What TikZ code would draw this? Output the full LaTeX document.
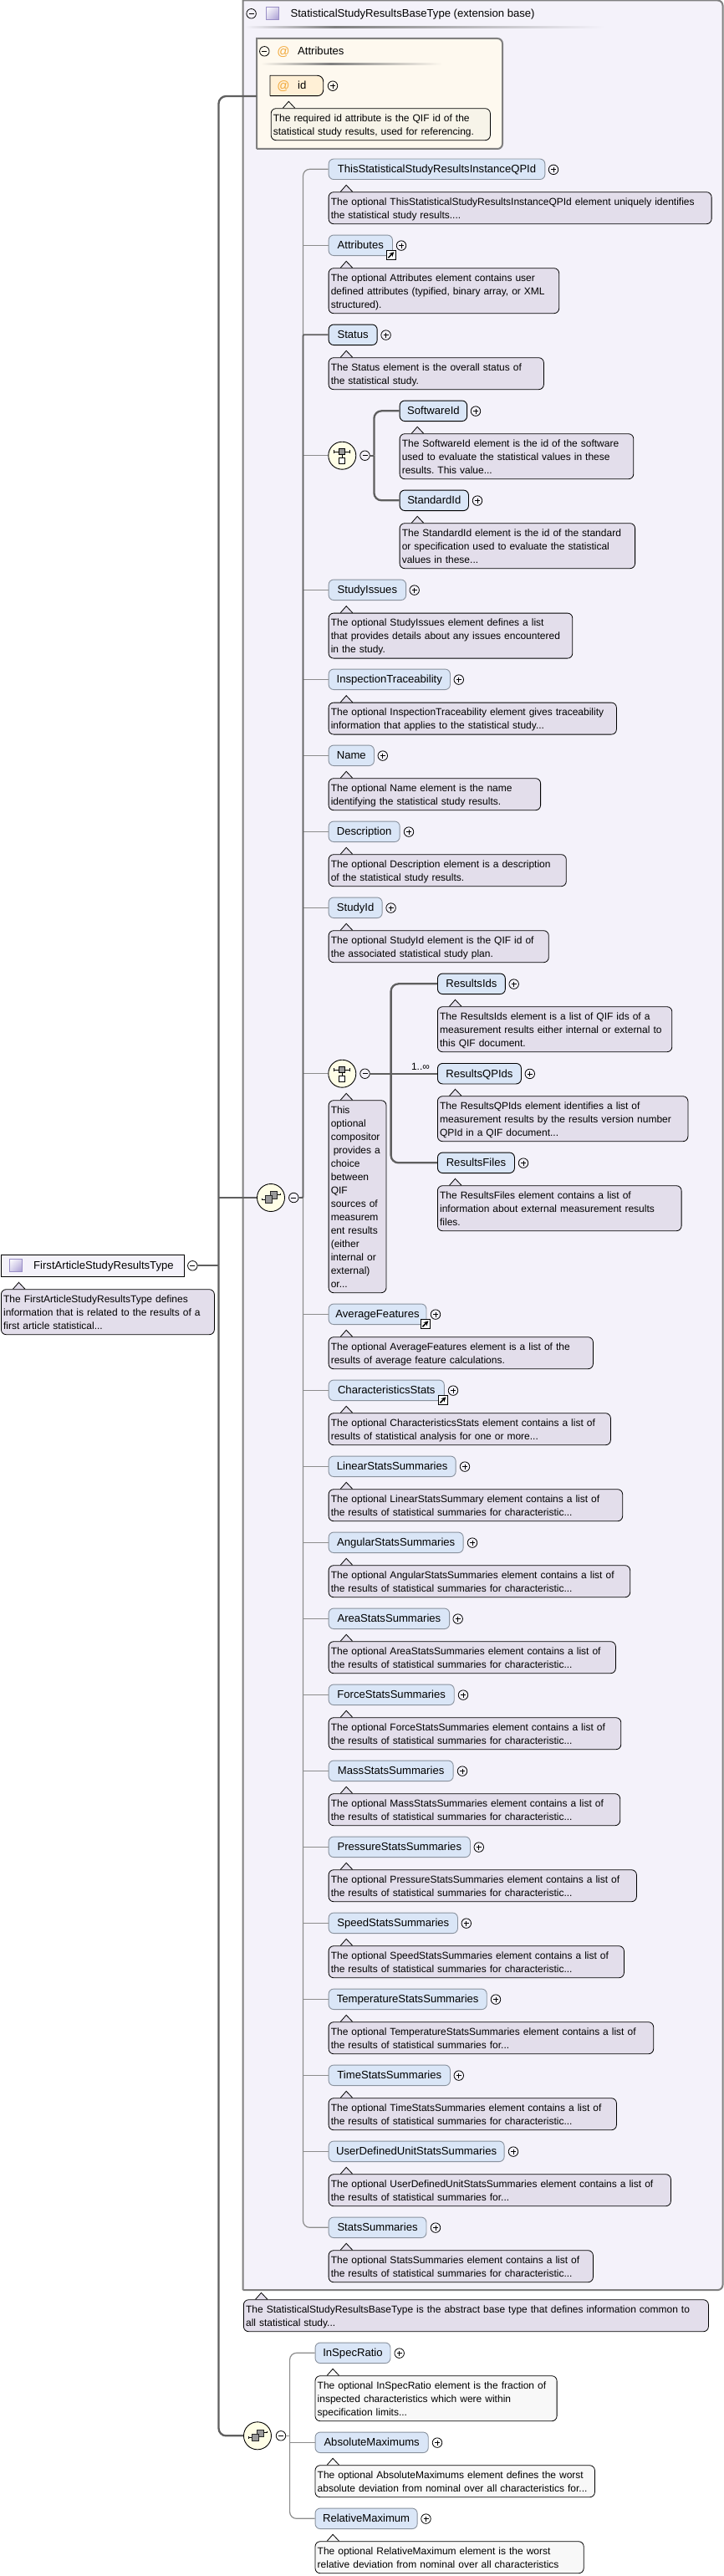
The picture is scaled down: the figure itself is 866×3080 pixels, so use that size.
\documentclass[tikz,border=0pt]{standalone}
\usepackage{fontspec}
\setmainfont{Liberation Sans}
\frenchspacing
\usetikzlibrary{arrows,shadings}
\definecolor{framefill}{HTML}{F4F2FA}
\definecolor{framedraw}{HTML}{808080}
\definecolor{attrfill}{HTML}{FEF9EF}
\definecolor{idfill}{HTML}{FFF0D6}
\definecolor{attrnotefill}{HTML}{F7F4E9}
\definecolor{notefill}{HTML}{E3DEEB}
\definecolor{palefill}{HTML}{F8F8F8}
\definecolor{elemfill}{HTML}{DAE6F7}
\definecolor{elemdraw}{HTML}{8A929E}
\definecolor{compfill}{HTML}{FFFEE6}
\definecolor{railgray}{HTML}{8C8C8C}
\definecolor{heavygray}{HTML}{5F5F5F}
\definecolor{atcolor}{HTML}{F2A93B}
\definecolor{typedraw}{HTML}{9A8FC6}
\definecolor{typedark}{HTML}{A396D0}
\definecolor{typemid}{HTML}{D8D3EC}
\tikzset{
  elem/.style={rectangle,rounded corners=6pt,draw=elemdraw,fill=elemfill,line width=.9pt,anchor=west,
    minimum width=#1pt,minimum height=24.5pt,inner xsep=0pt,inner ysep=0pt,text height=11pt,text depth=2pt,
    font=\fontsize{13.1}{16}\selectfont},
  req/.style={draw=black},
  notebox/.style 2 args={rectangle,rounded corners=6pt,draw=black,fill=#2,line width=.8pt,anchor=north west,
    align=left,text width={#1pt-5.4pt},inner xsep=2.7pt,inner ysep=3pt,
    font=\fontsize{12}{16}\selectfont,
    execute at begin node={\rule{0pt}{12.5pt}},execute at end node={\rule[-3.5pt]{0pt}{3.5pt}},
    append after command={\pgfextra{
      \fill[#2] ([xshift=14.5pt,yshift=-.6pt]\tikzlastnode.north west) -- ([xshift=21.5pt,yshift=8pt]\tikzlastnode.north west)
        -- ([xshift=29pt,yshift=-.6pt]\tikzlastnode.north west) -- cycle;
      \draw[black,line width=.8pt] ([xshift=14.5pt]\tikzlastnode.north west) -- ([xshift=21.5pt,yshift=8pt]\tikzlastnode.north west)
        -- ([xshift=29pt]\tikzlastnode.north west);
    }}},
  note/.style={notebox={#1}{notefill}},
  palenote/.style={notebox={#1}{palefill}},
  attrnote/.style={notebox={#1}{attrnotefill}},
  plus/.style={circle,draw=black,line width=.8pt,minimum size=11.5pt,inner sep=0pt,
    path picture={
      \draw[line width=.8pt] ([xshift=-3pt]path picture bounding box.center) -- ([xshift=3pt]path picture bounding box.center);
      \draw[line width=.8pt] ([yshift=-3pt]path picture bounding box.center) -- ([yshift=3pt]path picture bounding box.center);
    }},
  minus/.style={circle,draw=black,line width=.8pt,minimum size=11.5pt,inner sep=0pt,
    path picture={
      \draw[line width=.8pt] ([xshift=-3pt]path picture bounding box.center) -- ([xshift=3pt]path picture bounding box.center);
    }},
  linkbox/.style={rectangle,draw=black,fill=white,line width=.9pt,minimum width=11.5pt,minimum height=11pt,inner sep=0pt,
    path picture={
      \draw[-stealth,line width=1.5pt] ([xshift=-3.5pt,yshift=-3.5pt]path picture bounding box.center) -- ([xshift=3.5pt,yshift=3.5pt]path picture bounding box.center);
    }},
  typebox/.style={rectangle,draw=typedraw,line width=.8pt,minimum size=15.5pt,inner sep=0pt,
    upper left=white,upper right=typemid,lower left=typemid,lower right=typedark},
  choicecirc/.style={circle,draw=black,line width=.9pt,fill=compfill,minimum size=33pt,inner sep=0pt,
    path picture={
      \begin{scope}[shift={(path picture bounding box.center)},line width=.7pt]
        \draw (-9.5,-4.7) -- (9.5,-4.7);
        \draw (-9.5,-6.7) -- (-9.5,-2.7);
        \draw (9.5,-6.7) -- (9.5,-2.7);
        \draw (0,-4.7) -- (0,2);
        \draw[fill=gray!80] (-3.5,-8.2) rectangle (3.5,-1.2);
        \draw[fill=white] (-3.5,2.2) rectangle (3.5,9.2);
      \end{scope}
    }},
  seqcirc/.style={circle,draw=black,line width=.9pt,fill=compfill,minimum size=33pt,inner sep=0pt,
    path picture={
      \begin{scope}[shift={(path picture bounding box.center)},line width=.7pt]
        \draw (-11,2) -- (-6,2);
        \draw (-11,.8) -- (-11,3.2);
        \draw (7,-4) -- (11,-4);
        \draw (11,-5) -- (11,-3);
        \draw[fill=gray!80,draw=gray!30!black] (-.7,-7.3) rectangle (7.3,1);
        \draw[fill=gray!80,draw=gray!30!black] (-6.3,-2.3) rectangle (1,6);
      \end{scope}
    }},
  rail/.style={draw=railgray,line width=1.2pt,rounded corners=8pt},
  heavy/.style={draw=heavygray,line width=2.3pt,rounded corners=9pt},
  atsign/.style={text=atcolor,font=\fontsize{15}{16}\selectfont,inner sep=0pt},
  title/.style={font=\fontsize{13.1}{16}\selectfont,anchor=west,inner sep=0pt,text height=11pt,text depth=2pt}
}
\begin{document}
\begin{tikzpicture}[x=1pt,y=-1pt]
  \useasboundingbox[fill=white] (0,0) rectangle (866,3080);
  % base type frame
  \draw[draw=framedraw,fill=framefill,line width=2pt] (290.5,2738) [sharp corners] -- (290.5,.5) -- (858,.5)
    [rounded corners=6pt] -- (864.5,.5) -- (864.5,2738) -- (290.5,2738);
  \node[minus] (basem) at (300.6,16.3) {};
  \node[typebox] (baset) at (326,16) {};
  \node[title] (baselabel) at (347.4,16) {StatisticalStudyResultsBaseType (extension base)};
  \shade[left color=framefill,right color=gray] (293,32) rectangle (400,34);
  \shade[left color=gray,right color=framefill] (400,32) rectangle (723,34);
  % attributes box
  \draw[draw=framedraw,fill=attrfill,line width=2pt] (307,178) [sharp corners] -- (307,46) -- (595,46)
    [rounded corners=6pt] -- (601,46) -- (601,178) -- (307,178);
  \node[minus] (attrsm) at (316.3,61.3) {};
  \node[atsign] (attrsat) at (339,62) {@};
  \node[title] (attrslabel) at (356,61.5) {Attributes};
  \shade[left color=attrfill,right color=gray] (312,76) rectangle (395,78);
  \shade[left color=gray,right color=attrfill] (395,76) rectangle (529,78);
  \coordinate (attrsin) at (307,115);
  \draw[fill=idfill,line width=.9pt] (323,114.7) [sharp corners] -- (323,90.3) -- (378,90.3)
    [rounded corners=7pt] -- (386.7,90.3) -- (386.7,114.7) -- (323,114.7);
  \node[atsign] (idat) at (339,103) {@};
  \node[title] (id) at (356,102.5) {id};
  \node[plus] (idp) at (398,102.7) {};
  \node[attrnote=262.2] (idn) at (323.8,129.3) {The required id attribute is the QIF id of the\\statistical study results, used for referencing.};

  % elements of the sequence
  \node[elem=258.7] (thisid) at (392.7,202.3) {ThisStatisticalStudyResultsInstanceQPId};
  \node[plus] (thisidp) at (662,202.8) {};
  \node[note=458] (thisidn) at (392.7,229.3) {The optional ThisStatisticalStudyResultsInstanceQPId element uniquely identifies\\the statistical study results....};
  \node[elem=76.3] (attr) at (392.7,293.3) {Attributes};
  \node[plus] (attrp) at (480,293.6) {};
  \node[linkbox] (attrl) at (467.8,304.8) {};
  \node[note=275.6] (attrn) at (392.7,320.3) {The optional Attributes element contains user\\defined attributes (typified, binary array, or XML\\structured).};
  \node[elem=58,req] (status) at (392.7,400.3) {Status};
  \node[plus] (statusp) at (461.6,400.6) {};
  \node[note=257.3] (statusn) at (392.7,427.3) {The Status element is the overall status of\\the statistical study.};

  \node[choicecirc] (stdchoice) at (409.3,544.7) {};
  \node[minus] (stdchoicem) at (436.5,544.7) {};
  \coordinate (stdrail) at (447.4,544.7);
  \node[elem=80.5,req] (softid) at (477.7,491.3) {SoftwareId};
  \node[plus] (softidp) at (569,491.6) {};
  \node[note=279.7] (softidn) at (477.7,518.3) {The SoftwareId element is the id of the software\\used to evaluate the statistical values in these\\results. This value...};
  \node[elem=82.3,req] (stdid) at (477.7,598.3) {StandardId};
  \node[plus] (stdidp) at (571,598.6) {};
  \node[note=281.5] (stdidn) at (477.7,625.3) {The StandardId element is the id of the standard\\or specification used to evaluate the statistical\\values in these...};

  \node[elem=92.5] (issues) at (392.7,705.3) {StudyIssues};
  \node[plus] (issuesp) at (495.7,705.6) {};
  \node[note=291.7] (issuesn) at (392.7,732.7) {The optional StudyIssues element defines a list\\that provides details about any issues encountered\\in the study.};
  \node[elem=145.3] (trace) at (392.7,812.3) {InspectionTraceability};
  \node[plus] (tracep) at (548.8,812.6) {};
  \node[note=344.3] (tracen) at (392.7,839.7) {The optional InspectionTraceability element gives traceability\\information that applies to the statistical study...};
  \node[elem=54.3] (name) at (392.7,903.3) {Name};
  \node[plus] (namep) at (457.8,903.6) {};
  \node[note=253.5] (namen) at (392.7,930.3) {The optional Name element is the name\\identifying the statistical study results.};
  \node[elem=85] (descr) at (392.7,994.3) {Description};
  \node[plus] (descrp) at (489,994.6) {};
  \node[note=284.2] (descrn) at (392.7,1021.3) {The optional Description element is a description\\of the statistical study results.};
  \node[elem=64] (studyid) at (392.7,1085.3) {StudyId};
  \node[plus] (studyidp) at (467.6,1085.6) {};
  \node[note=263.2] (studyidn) at (392.7,1112.3) {The optional StudyId element is the QIF id of\\the associated statistical study plan.};

  \node[choicecirc] (reschoice) at (409.3,1283.7) {};
  \node[minus] (reschoicem) at (436.5,1283.7) {};
  \coordinate (resrail) at (467.6,1283.7);
  \node[note=68.9] (reschoicen) at (392.7,1315.3) {This\\optional\\compositor\\\hspace*{3pt}provides a\\choice\\between\\QIF\\sources of\\measurem\\ent results\\(either\\internal or\\external)\\or...};
  \node[elem=80.9,req] (resids) at (523,1176.3) {ResultsIds};
  \node[plus] (residsp) at (614.7,1176.6) {};
  \node[note=280.4] (residsn) at (523,1203.3) {The ResultsIds element is a list of QIF ids of a\\measurement results either internal or external to\\this QIF document.};
  \node[elem=100,req] (resqp) at (523,1283.7) {ResultsQPIds};
  \node[plus] (resqpp) at (633.8,1283.9) {};
  \node (resmult) [inner sep=0pt,font=\fontsize{12}{16}\selectfont] at (503,1275.3) {1..∞};
  \node[note=299.5] (resqpn) at (523,1310.3) {The ResultsQPIds element identifies a list of\\measurement results by the results version number\\QPId in a QIF document...};
  \node[elem=92,req] (resfiles) at (523,1390.3) {ResultsFiles};
  \node[plus] (resfilesp) at (626,1390.6) {};
  \node[note=291.7] (resfilesn) at (523,1417.3) {The ResultsFiles element contains a list of\\information about external measurement results\\files.};

  \node[elem=116.8] (avg) at (392.7,1571.3) {AverageFeatures};
  \node[plus] (avgp) at (521,1571.6) {};
  \node[linkbox] (avgl) at (508.9,1582.8) {};
  \node[note=316.3] (avgn) at (392.7,1598.3) {The optional AverageFeatures element is a list of the\\results of average feature calculations.};
  \node[elem=138.2] (charstats) at (392.7,1662.3) {CharacteristicsStats};
  \node[plus] (charstatsp) at (542,1662.6) {};
  \node[linkbox] (charstatsl) at (529.9,1673.8) {};
  \node[note=337.3] (charstatsn) at (392.7,1689.3) {The optional CharacteristicsStats element contains a list of\\results of statistical analysis for one or more...};
  \node[elem=152] (linear) at (392.7,1753.3) {LinearStatsSummaries};
  \node[plus] (linearp) at (556,1753.6) {};
  \node[note=351.6] (linearn) at (392.7,1780.3) {The optional LinearStatsSummary element contains a list of\\the results of statistical summaries for characteristic...};
  \node[elem=161] (angular) at (392.7,1844.3) {AngularStatsSummaries};
  \node[plus] (angularp) at (565,1844.6) {};
  \node[note=360.6] (angularn) at (392.7,1871.3) {The optional AngularStatsSummaries element contains a list of\\the results of statistical summaries for characteristic...};
  \node[elem=144.5] (area) at (392.7,1935.3) {AreaStatsSummaries};
  \node[plus] (areap) at (547.7,1935.6) {};
  \node[note=343.3] (arean) at (392.7,1962.3) {The optional AreaStatsSummaries element contains a list of\\the results of statistical summaries for characteristic...};
  \node[elem=150.1] (force) at (392.7,2026.3) {ForceStatsSummaries};
  \node[plus] (forcep) at (554,2026.6) {};
  \node[note=349.7] (forcen) at (392.7,2053.3) {The optional ForceStatsSummaries element contains a list of\\the results of statistical summaries for characteristic...};
  \node[elem=149] (mass) at (392.7,2117.3) {MassStatsSummaries};
  \node[plus] (massp) at (553,2117.6) {};
  \node[note=348.6] (massn) at (392.7,2144.3) {The optional MassStatsSummaries element contains a list of\\the results of statistical summaries for characteristic...};
  \node[elem=169.3] (pressure) at (392.7,2208.3) {PressureStatsSummaries};
  \node[plus] (pressurep) at (572.8,2208.6) {};
  \node[note=368.3] (pressuren) at (392.7,2235.3) {The optional PressureStatsSummaries element contains a list of\\the results of statistical summaries for characteristic...};
  \node[elem=154.3] (speed) at (392.7,2299.3) {SpeedStatsSummaries};
  \node[plus] (speedp) at (557.8,2299.6) {};
  \node[note=353.3] (speedn) at (392.7,2326.3) {The optional SpeedStatsSummaries element contains a list of\\the results of statistical summaries for characteristic...};
  \node[elem=189.1] (temp) at (392.7,2390.3) {TemperatureStatsSummaries};
  \node[plus] (tempp) at (593,2390.6) {};
  \node[note=388.6] (tempn) at (392.7,2417.3) {The optional TemperatureStatsSummaries element contains a list of\\the results of statistical summaries for...};
  \node[elem=145.3] (time) at (392.7,2481.3) {TimeStatsSummaries};
  \node[plus] (timep) at (548.8,2481.6) {};
  \node[note=344.3] (timen) at (392.7,2508.3) {The optional TimeStatsSummaries element contains a list of\\the results of statistical summaries for characteristic...};
  \node[elem=210] (user) at (392.7,2572.3) {UserDefinedUnitStatsSummaries};
  \node[plus] (userp) at (614,2572.6) {};
  \node[note=409.3] (usern) at (392.7,2599.3) {The optional UserDefinedUnitStatsSummaries element contains a list of\\the results of statistical summaries for...};
  \node[elem=116.8] (stats) at (392.7,2663.3) {StatsSummaries};
  \node[plus] (statsp) at (521,2663.6) {};
  \node[note=316.3] (statsn) at (392.7,2690.3) {The optional StatsSummaries element contains a list of\\the results of statistical summaries for characteristic...};

  % the compositor in the frame and its rail
  \node[seqcirc] (seq) at (324,1432) {};
  \node[minus] (seqm) at (351.3,1432) {};
  \coordinate (seqrail) at (362.5,1432);
  \draw[rail] (thisid.west) -| (seqrail);
  \draw[rail] (seqrail) |- (stats.west);
  \foreach \e in {attr,stdchoice,issues,trace,name,descr,studyid,reschoice,avg,charstats,linear,angular,area,force,mass,pressure,speed,temp,time,user}
    \draw[rail,rounded corners=0pt] (seqrail |- \e.west) -- (\e.west);
  \draw[heavy,line width=1.8pt,rounded corners=1pt] (status.west) -| (seqrail) -- (seqm.east);
  \draw[heavy] (softid.west) -| (stdrail);
  \draw[heavy] (stdid.west) -| (stdrail);
  \draw[heavy,line width=1.6pt] (stdchoicem.east) -- (stdrail);
  \draw[heavy] (resids.west) -| (resrail);
  \draw[heavy] (resfiles.west) -| (resrail);
  \draw[heavy] (reschoicem.east) -- (resqp.west);

  % frame note
  \node[note=556] (basen) at (291,2749.3) {The StatisticalStudyResultsBaseType is the abstract base type that defines information common to\\all statistical study...};

  % second compositor below the frame
  \node[seqcirc] (seqb) at (308,2912.3) {};
  \node[minus] (seqbm) at (336,2912.3) {};
  \coordinate (seqbrail) at (346.6,2912.3);
  \node[elem=89.9] (inspec) at (376.6,2813.3) {InSpecRatio};
  \node[plus] (inspecp) at (477.7,2813.6) {};
  \node[palenote=289.1] (inspecn) at (376.6,2840.3) {The optional InSpecRatio element is the fraction of\\inspected characteristics which were within\\specification limits...};
  \node[elem=135.2] (absmax) at (376.6,2920.3) {AbsoluteMaximums};
  \node[plus] (absmaxp) at (523,2920.6) {};
  \node[palenote=334.4] (absmaxn) at (376.6,2947.3) {The optional AbsoluteMaximums element defines the worst\\absolute deviation from nominal over all characteristics for...};
  \node[elem=122.1] (relmax) at (376.6,3011.3) {RelativeMaximum};
  \node[plus] (relmaxp) at (509.5,3011.6) {};
  \node[palenote=321.2] (relmaxn) at (376.6,3038.3) {The optional RelativeMaximum element is the worst\\relative deviation from nominal over all characteristics};
  \draw[rail] (inspec.west) -| (seqbrail);
  \draw[rail] (relmax.west) -| (seqbrail);
  \draw[rail,rounded corners=0pt] (seqbm.east) -- (seqbrail);
  \draw[rail,rounded corners=0pt] (seqbrail |- absmax.west) -- (absmax.west);

  % root type
  \node[rectangle,draw=black,fill=framefill,line width=.9pt,minimum width=219pt,minimum height=26.5pt,anchor=west,inner sep=0pt] (first) at (.5,1513.3) {};
  \node[typebox] (firstt) at (19,1513) {};
  \node[title] (firstlabel) at (40,1513) {FirstArticleStudyResultsType};
  \node[minus] (firstm) at (230.3,1513.3) {};
  \node[note=255] (firstn) at (1,1541.3) {The FirstArticleStudyResultsType defines\\information that is related to the results of a\\first article statistical...};
  \coordinate (trunk) at (261.5,1513.3);
  \draw[heavy] (firstm.east) -- (trunk);
  \draw[heavy] (attrsin) -| (trunk);
  \draw[heavy] (seqb.west) -| (trunk);
  \draw[heavy,rounded corners=0pt] (trunk |- seq.west) -- (seq.west);
\end{tikzpicture}
\end{document}
